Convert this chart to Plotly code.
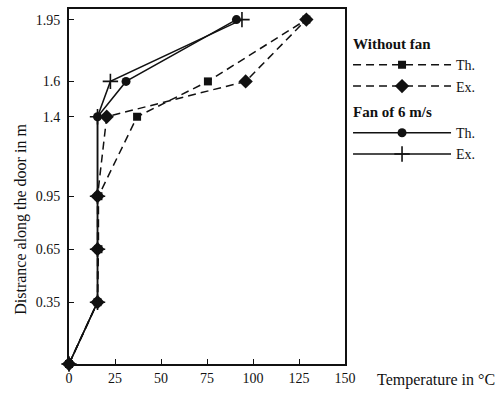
import plotly.graph_objects as go

# Data
heights = [0, 0.35, 0.65, 0.95, 1.4, 1.6, 1.95]
nofan_th = [0, 15.5, 16, 16, 37, 75.5, 129]
nofan_ex = [0, 15.5, 15.5, 15.5, 20.5, 96, 129]
fan_th = [0, 15.5, 15.5, 15.5, 15.5, 31, 91]
fan_ex = [0, 15.5, 15.5, 15.5, 15.5, 22.5, 94]

y_ticks = [0.35, 0.65, 0.95, 1.4, 1.6, 1.95]
y_ticktext = ["0.35", "0.65", "0.95", "1.4", "1.6", "1.95"]
x_ticks = [0, 25, 50, 75, 100, 125, 150]

FONT = "Liberation Serif"
BLACK = "#111111"
dash_style = "8px,5px"

fig = go.Figure()

fig.add_trace(go.Scatter(
    x=nofan_th, y=heights, mode="lines+markers", name="Th.",
    legendgroup="nofan", legendgrouptitle=dict(text="<b>Without fan</b>"),
    line=dict(color=BLACK, width=1.5, dash=dash_style),
    marker=dict(symbol="square", size=8, color=BLACK), cliponaxis=False))
fig.add_trace(go.Scatter(
    x=nofan_ex, y=heights, mode="lines+markers", name="Ex.",
    legendgroup="nofan",
    line=dict(color=BLACK, width=1.5, dash=dash_style),
    marker=dict(symbol="diamond", size=11, color=BLACK), cliponaxis=False))
fig.add_trace(go.Scatter(
    x=fan_th, y=heights, mode="lines+markers", name="Th.",
    legendgroup="fan", legendgrouptitle=dict(text="<b>Fan of 6 m/s</b>"),
    line=dict(color=BLACK, width=1.5),
    marker=dict(symbol="circle", size=9, color=BLACK), cliponaxis=False))
fig.add_trace(go.Scatter(
    x=fan_ex, y=heights, mode="lines+markers", name="Ex.",
    legendgroup="fan",
    line=dict(color=BLACK, width=1.5),
    marker=dict(symbol="cross-thin", size=11, color=BLACK,
                line=dict(color=BLACK, width=1.6)), cliponaxis=False))

fig.update_layout(
    width=500, height=394,
    margin=dict(l=69, r=155, t=7, b=30),
    paper_bgcolor="white", plot_bgcolor="white",
    font=dict(family=FONT, size=14, color=BLACK),
    legend=dict(x=1.011, y=0.95, xanchor="left", yanchor="top",
                xref="paper", itemwidth=98,
                font=dict(family=FONT, size=14, color=BLACK),
                grouptitlefont=dict(family=FONT, size=15, color=BLACK),
                tracegroupgap=3, bgcolor="rgba(0,0,0,0)"),
    annotations=[
        dict(text="Temperature in °C", xref="paper", yref="paper",
             x=1.108, y=0, xanchor="left", yanchor="middle", yshift=-16,
             showarrow=False, font=dict(family=FONT, size=16, color=BLACK)),
        dict(text="Distrance along the door in m", xref="paper", yref="paper",
             x=-0.174, y=0.409, xanchor="center", yanchor="middle", textangle=-90,
             showarrow=False, font=dict(family=FONT, size=16, color=BLACK)),
    ],
)

fig.update_xaxes(range=[0, 150], tickvals=x_ticks, ticks="inside", ticklen=5,
                 tickwidth=1.2, tickcolor=BLACK, showline=True, linewidth=2,
                 linecolor=BLACK, mirror=True, showgrid=False, zeroline=False,
                 tickfont=dict(family=FONT, size=14, color=BLACK))
fig.update_yaxes(range=[0, 2.01], tickvals=y_ticks, ticktext=y_ticktext,
                 ticks="inside", ticklen=5, tickwidth=1.2, tickcolor=BLACK,
                 showline=True, linewidth=2, linecolor=BLACK, mirror=True,
                 showgrid=False, zeroline=False, ticklabelstandoff=4,
                 tickfont=dict(family=FONT, size=14, color=BLACK))

fig.write_html("out.html", config={"displayModeBar": False},
               post_script="document.body.style.margin='0';document.body.style.padding='0';")
